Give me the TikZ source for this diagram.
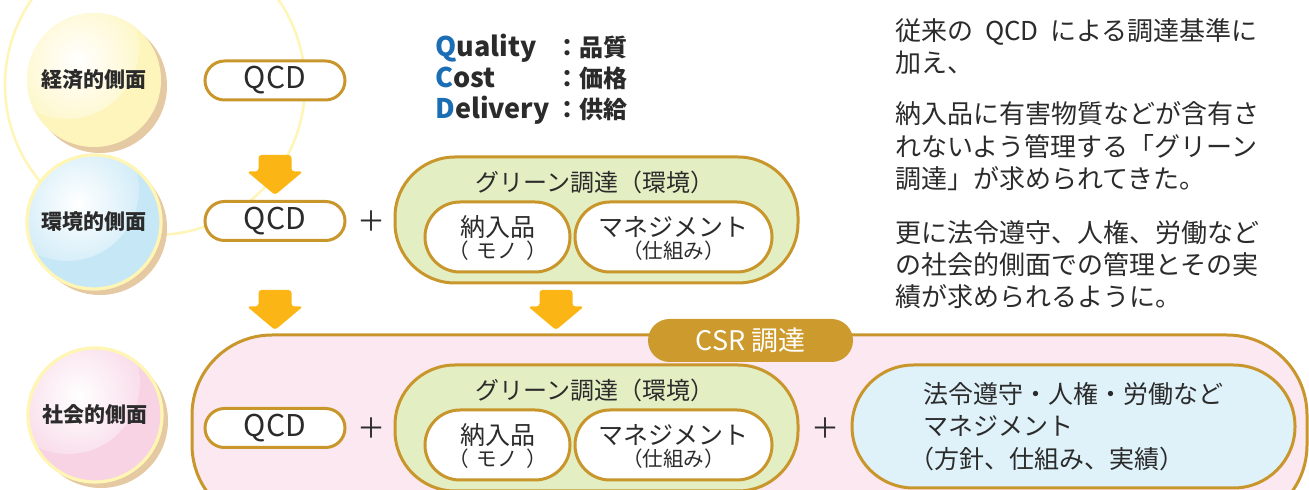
\documentclass[tikz,border=0pt]{standalone}
\usepackage{fontspec}
\setmainfont{Noto Sans CJK JP}
\usetikzlibrary{shapes.misc}
\definecolor{ink}{HTML}{2B2B2B}
\definecolor{gold}{HTML}{C9962C}
\definecolor{arrowc}{HTML}{FBB615}
\definecolor{ballY}{HTML}{FEF5BC}
\definecolor{ballB}{HTML}{C6E7F6}
\definecolor{ballP}{HTML}{F7D3E4}
\definecolor{ringc}{HTML}{FFF5B5}
\definecolor{shadowc}{HTML}{E4C9A2}
\definecolor{bigcirc}{HTML}{FFF5B8}
\definecolor{greenf}{HTML}{E4EEC3}
\definecolor{pinkf}{HTML}{FCE8F1}
\definecolor{bluef}{HTML}{DFF2FA}
\definecolor{tabc}{HTML}{CC9A2D}
\definecolor{qblue}{HTML}{1B6DB5}
\newcommand{\fsz}[1]{\fontsize{#1}{#1}\selectfont}
\tikzset{
  ball/.style={circle, minimum size=67pt, inner sep=0pt, fill=#1,
    font=\bfseries\fsz{10.5}, text=ink,
    path picture={\shade[inner color=white, outer color=#1]
      ([shift={(-13.5pt,16.5pt)}]path picture bounding box.center) circle[radius=36pt];}},
  ringed/.style={draw=ringc, line width=1.6pt},
  goldline/.style={draw=gold, line width=1.5pt},
  qcdbox/.style={rounded rectangle, goldline, fill=white, minimum width=70pt,
    minimum height=19.5pt, inner sep=0pt, font=\fsz{15}, text=ink},
  inbox/.style={rounded rectangle, goldline, fill=white, minimum height=35pt, inner sep=0pt},
  grp/.style={rectangle, rounded corners=30pt, goldline, fill=greenf,
    minimum width=201.5pt, minimum height=63pt, inner sep=0pt},
  txt/.style={inner sep=0pt, text=ink},
  gtitle/.style={txt, font=\fsz{12}},
  big/.style={txt, font=\fsz{12.5}},
  small/.style={txt, font=\fsz{10.3}},
  side/.style={txt, anchor=base west, font=\fsz{13}},
  deflat/.style={txt, anchor=base west, font=\bfseries\fsz{13.5}},
  defjp/.style={txt, anchor=base west, font=\bfseries\fsz{12}},
  plus/.style={txt, font=\fsz{14}},
  bigarrow/.pic={\fill[arrowc, rounded corners=1.5pt] (-16.5,0) -- (16.5,0) -- (16.5,16.5)
     -- (28,16.5) -- (0,40) -- (-28,16.5) -- (-16.5,16.5) -- cycle;}
}
\begin{document}
\begin{tikzpicture}[x=0.5pt, y=-0.5pt]
\path[use as bounding box] (0,0) rectangle (1309,490);
\clip (0,0) rectangle (1309,490);

% large faint circle
\draw[bigcirc, line width=1.3pt] (155,85) circle[radius=75pt];

% balls
\fill[shadowc] (100,86) circle[radius=33.5pt];
\node[ball=ballY] (econ) at (94,80) {経済的側面};
\fill[shadowc] (100,228) circle[radius=33.5pt];
\node[ball=ballB, ringed] (env) at (94,222) {環境的側面};
\fill[shadowc] (101,421) circle[radius=33.5pt];
\node[ball=ballP, ringed] (soc) at (95,415) {社会的側面};

% QCD definitions
\node[deflat] (dq) at (435,57) {\textcolor{qblue}{Q}uality};
\node[defjp] (dqj) at (555,57) {：品質};
\node[deflat] (dc) at (435,88) {\textcolor{qblue}{C}ost};
\node[defjp] (dcj) at (555,88) {：価格};
\node[deflat] (dd) at (435,119) {\textcolor{qblue}{D}elivery};
\node[defjp] (ddj) at (555,119) {：供給};

% side text
\node[side] (s1) at (895,41) {従来の\hspace{0.45em}QCD\hspace{0.45em}による調達基準に};
\node[side] (s2) at (895,73) {加え、};
\node[side] (s3) at (895,124) {納入品に有害物質などが含有さ};
\node[side] (s4) at (895,157) {れないよう管理する「グリーン};
\node[side] (s5) at (895,189) {調達」が求められてきた。};
\node[side] (s6) at (895,243) {更に法令遵守、人権、労働など};
\node[side] (s7) at (895,275) {の社会的側面での管理とその実};
\node[side] (s8) at (895,307) {績が求められるように。};

% row 1
\node[qcdbox] (q1) at (275,80.5) {QCD};
\pic at (275,155) {bigarrow};

% row 2
\node[qcdbox] (q2) at (275,221) {QCD};
\node[plus] (p1) at (371,221) {＋};
\node[grp] (g1) at (596.5,220) {};
\node[gtitle] (g1t) at (595,182) {グリーン調達（環境）};
\node[inbox, minimum width=72.5pt] (n1) at (497.5,237) {};
\node[big] (n1a) at (497.5,227) {納入品};
\node[small] (n1b) at (497.5,251) {（\hspace{0.4em}モノ\hspace{0.4em}）};
\node[inbox, minimum width=98.5pt] (m1) at (673.5,237) {};
\node[big] (m1a) at (673.5,227) {マネジメント};
\node[small] (m1b) at (673.5,251) {（仕組み）};

\pic at (275,290) {bigarrow};
\pic at (556,290) {bigarrow};

% row 3
\node[rectangle, rounded corners=40pt, goldline, fill=pinkf, minimum width=557.5pt,
  minimum height=95pt, inner sep=0pt] (csr) at (749.5,430) {};
\node[rounded rectangle, fill=tabc, minimum width=102.5pt, minimum height=21.5pt,
  inner sep=0pt, text=white, font=\fsz{13.5}] (tab) at (750.5,340.5) {CSR 調達};
\node[qcdbox] (q3) at (275,428) {QCD};
\node[plus] (p2) at (371,428) {＋};
\node[grp] (g2) at (596.5,428) {};
\node[gtitle] (g2t) at (595,390) {グリーン調達（環境）};
\node[inbox, minimum width=72.5pt] (n2) at (497.5,445) {};
\node[big] (n2a) at (497.5,435) {納入品};
\node[small] (n2b) at (497.5,459) {（\hspace{0.4em}モノ\hspace{0.4em}）};
\node[inbox, minimum width=98.5pt] (m2) at (673.5,445) {};
\node[big] (m2a) at (673.5,435) {マネジメント};
\node[small] (m2b) at (673.5,459) {（仕組み）};
\node[plus] (p3) at (825,428) {＋};
\node[rounded rectangle, goldline, fill=bluef, minimum width=221.5pt, minimum height=61.5pt,
  inner sep=0pt] (law) at (1073.5,426.5) {};
\node[big, anchor=base west] (l1) at (923,404) {法令遵守・人権・労働など};
\node[big, anchor=base west] (l2) at (923,436) {マネジメント};
\node[big, anchor=base west] (l3) at (923,469) {\kern-0.55em（方針、仕組み、実績）};
\end{tikzpicture}
\end{document}
